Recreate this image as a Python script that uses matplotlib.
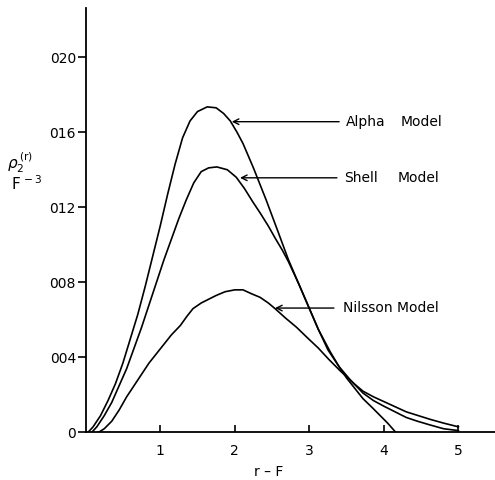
import matplotlib.pyplot as plt

# curves (r in F, density in F^-3)
alpha_r = [0.03, 0.10, 0.20, 0.30, 0.40, 0.50, 0.60, 0.70, 0.80, 0.90, 1.00, 1.10,
           1.20, 1.30, 1.40, 1.50, 1.63, 1.75, 1.85, 1.94, 2.03, 2.11, 2.25, 2.42,
           2.58, 2.72, 2.86, 2.99, 3.12, 3.28, 3.40, 3.50, 3.62, 3.72, 3.85, 3.95,
           4.05, 4.15]
alpha_rho = [0.0, 0.0003, 0.0009, 0.0017, 0.0026, 0.0037, 0.0050, 0.0063, 0.0078,
             0.0094, 0.0110, 0.0127, 0.0143, 0.0157, 0.0166, 0.0171, 0.01735,
             0.0173, 0.0170, 0.0166, 0.0160, 0.0154, 0.0141, 0.0124, 0.0107,
             0.0092, 0.0079, 0.0067, 0.0055, 0.0043, 0.0035, 0.0029, 0.0023,
             0.0018, 0.0013, 0.0009, 0.0005, 0.00005]

shell_r = [0.08, 0.15, 0.25, 0.35, 0.45, 0.55, 0.65, 0.75, 0.85, 0.95, 1.05, 1.15,
           1.25, 1.35, 1.45, 1.55, 1.65, 1.76, 1.90, 2.02, 2.13, 2.24, 2.34, 2.45,
           2.55, 2.64, 2.72, 2.86, 2.99, 3.12, 3.25, 3.40, 3.55, 3.72, 3.86, 4.00,
           4.15, 4.30, 4.45, 4.62, 4.80, 5.00]
shell_rho = [0.0, 0.0003, 0.0009, 0.0016, 0.0025, 0.0034, 0.0045, 0.0056, 0.0068,
             0.0080, 0.0092, 0.0103, 0.0114, 0.0124, 0.0133, 0.0139, 0.0141,
             0.01415, 0.0140, 0.0136, 0.0130, 0.0123, 0.0117, 0.0110, 0.0103,
             0.0097, 0.0091, 0.0079, 0.0067, 0.0055, 0.0044, 0.0035, 0.0028,
             0.0021, 0.0017, 0.0014, 0.0011, 0.0008, 0.0006, 0.0004, 0.0002,
             0.0001]

nilsson_r = [0.17, 0.25, 0.35, 0.45, 0.55, 0.65, 0.75, 0.85, 0.95, 1.05, 1.15, 1.27,
             1.36, 1.44, 1.55, 1.65, 1.75, 1.87, 2.00, 2.11, 2.22, 2.34, 2.45, 2.54,
             2.68, 2.83, 2.96, 3.12, 3.26, 3.41, 3.60, 3.72, 3.86, 4.08, 4.30, 4.62,
             4.80, 5.00]
nilsson_rho = [0.0, 0.0002, 0.0006, 0.0012, 0.0019, 0.0025, 0.0031, 0.0037, 0.0042,
               0.0047, 0.0052, 0.0057, 0.0062, 0.0066, 0.0069, 0.0071, 0.0073,
               0.0075, 0.0076, 0.0076, 0.0074, 0.0072, 0.0069, 0.0066, 0.0061,
               0.0056, 0.0051, 0.0045, 0.0039, 0.0033, 0.0026, 0.0022, 0.0019,
               0.0015, 0.0011, 0.0007, 0.0005, 0.0003]

y_ticks = [0, 0.004, 0.008, 0.012, 0.016, 0.020]
y_tick_labels = ['0', '004', '008', '012', '016', '020']
x_ticks = [1, 2, 3, 4, 5]

fig = plt.figure(figsize=(4.95, 4.8), dpi=100)
ax = fig.add_axes([0.173, 0.099, 0.827, 0.884])

lw = 1.2
ax.plot(alpha_r, alpha_rho, color='black', lw=lw)
ax.plot(shell_r, shell_rho, color='black', lw=lw)
ax.plot(nilsson_r, nilsson_rho, color='black', lw=lw)

ax.set_xlim(0, 5.49)
ax.set_ylim(0, 0.02261)

for s in ['top', 'right']:
    ax.spines[s].set_visible(False)
for s in ['left', 'bottom']:
    ax.spines[s].set_linewidth(1.3)

ax.set_yticks(y_ticks)
ax.set_yticklabels(y_tick_labels)
ax.set_xticks(x_ticks)
ax.tick_params(axis='y', direction='out', length=6, width=1.2, pad=1, labelsize=10)
ax.tick_params(axis='x', direction='in', length=5, width=1.2, pad=8, labelsize=10)

# y label in two lines, x label
fig.text(0.015, 0.662, r'$\rho_2^{\,(\mathrm{r})}$', fontsize=11, va='center')
fig.text(0.022, 0.618, r'$\mathrm{F}^{\,-3}$', fontsize=11, va='center')
fig.text(0.542, 0.017, 'r – F', fontsize=10, ha='center', va='center')

# arrows with model names
arrow = dict(arrowstyle='->', color='black', lw=1.0, shrinkA=0, shrinkB=0)
ax.annotate('', xy=(1.96, 0.01656), xytext=(3.40, 0.01656), arrowprops=arrow)
ax.text(3.49, 0.01656, 'Alpha', fontsize=10, va='center')
ax.text(4.23, 0.01656, 'Model', fontsize=10, va='center')

ax.annotate('', xy=(2.07, 0.01357), xytext=(3.37, 0.01357), arrowprops=arrow)
ax.text(3.46, 0.01357, 'Shell', fontsize=10, va='center')
ax.text(4.19, 0.01357, 'Model', fontsize=10, va='center')

ax.annotate('', xy=(2.54, 0.00663), xytext=(3.33, 0.00663), arrowprops=arrow)
ax.text(3.45, 0.00663, 'Nilsson Model', fontsize=10, va='center')

plt.savefig('out.png', dpi=100)
